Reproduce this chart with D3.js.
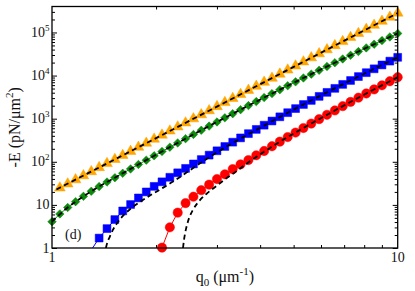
<!DOCTYPE html>
<html>
<head>
<meta charset="utf-8">
<script src="https://cdn.jsdelivr.net/npm/d3@7"></script>
<style>
  body { margin: 0; background: #fff; }
  svg text { font-family: "Liberation Serif", "DejaVu Serif", serif; fill: #111; }
</style>
</head>
<body>
<div id="chart"></div>
<script>
// q0 values shared by all simulated series (um^-1)
const q = [1.000, 1.0537, 1.1103, 1.1700, 1.2328, 1.2991, 1.3688, 1.4424, 1.5199, 1.6015,
  1.6876, 1.7783, 1.8738, 1.9745, 2.0805, 2.1923, 2.3101, 2.4342, 2.5649, 2.7027,
  2.8479, 3.0009, 3.1623, 3.3322, 3.5112, 3.6998, 3.8985, 4.1080, 4.3287, 4.5612,
  4.8062, 5.0644, 5.3365, 5.6234, 5.9255, 6.2438, 6.5793, 6.9327, 7.3051, 7.6975,
  8.1110, 8.5467, 9.0059, 9.4897, 10.000];

// -E values (pN/um^2), null where the series has no point
const orangeE = [null, 24.8, 30.8, 38.3, 47.5, 59.2, 73.5, 91.2, 113.5, 140.9,
  175.0, 217.8, 270.4, 335.7, 416.9, 518.8, 644.2, 799.8, 995.4, 1236,
  1535, 1910, 2371, 2944, 3664, 4550, 5649, 7031, 8730, 10840,
  13490, 16750, 20800, 25880, 32140, 39900, 49660, 61660, 76560, 95060,
  118300, 146900, 182400, 227000, 281800];

const greenE = [4.07, 6.17, 8.71, 11.9, 15.8, 20.7, 26.6, 33.9, 42.7, 54.1,
  68.4, 86.5, 109.1, 137.7, 173.4, 218.3, 274.2, 343.6, 430.5, 538.3,
  673.0, 839.5, 1047, 1303, 1618, 2009, 2489, 3083, 3811, 4710,
  5808, 7145, 8790, 10790, 13240, 16220, 19860, 24270, 29580, 36060,
  43850, 53330, 64710, 78520, 95060];

const blueE = [null, null, null, null, null, 0.9, 1.70, 2.82, 4.57, 7.24,
  10.2, 14.5, 20.0, 26.9, 34.3, 43.7, 55.5, 70.3, 89.1, 112.7,
  142.6, 179.9, 226.5, 285.1, 358.1, 449.8, 563.6, 706.3, 883.1, 1104,
  1377, 1714, 2133, 2649, 3289, 4074, 5047, 6237, 7691, 9484,
  11670, 14350, 17620, 21630, 26490];

const redE = [null, null, null, null, null, null, null, null, null, null,
  null, null, null, null, 1.02, 3.02, 6.61, 11.0, 15.5, 21.9,
  29.5, 39.8, 51.3, 67.6, 87.1, 109.6, 141.3, 177.8, 229.1, 293.1,
  374.1, 476.4, 606.7, 769.1, 975, 1230, 1552, 1950, 2449, 3069,
  3837, 4775, 5943, 7379, 9141];

// theory curves (dashed)
const orangeTheoryQ = [1.03, 2, 3, 5, 10];
const orangeTheoryE = [22.8, 354, 1905, 15890, 281800];
const greenTheoryQ = [1, 1.1103, 1.2328, 1.3688, 1.5199, 1.6876, 1.8738, 2.0806, 2.565, 3.1623, 3.8986, 4.8063, 5.9255, 7.3052, 9.0063, 10];
const greenTheoryE = [4.07, 8.71, 15.8, 26.6, 42.7, 68.4, 109.1, 173.4, 430.5, 1047, 2489, 5808, 13240, 29580, 64710, 95060];
const blueTheoryQ = [1.432, 1.445, 1.469, 1.500, 1.535, 1.578, 1.629, 1.698, 1.795, 1.897, 2.028, 2.239, 2.512, 2.818, 3.162, 3.548, 3.981, 5.012, 6.310, 7.943, 10];
const blueTheoryE = [1.0, 1.32, 1.82, 2.63, 3.55, 4.79, 6.31, 8.51, 11.7, 15.5, 21.4, 34.7, 64.6, 120, 214, 363, 603, 1641, 4266, 10720, 26490];
const redTheoryQ = [2.393, 2.410, 2.432, 2.477, 2.564, 2.679, 2.831, 3.027, 3.162, 3.388, 3.631, 3.981, 4.467, 5.012, 6.310, 7.943, 10];
const redTheoryE = [1.0, 1.58, 2.40, 4.27, 7.94, 12.9, 19.5, 29.5, 38.9, 57.5, 87.1, 144.5, 263, 457, 1288, 3508, 9141];

const yMajorExp = [0, 1, 2, 3, 4, 5];
const xMajor = [1, 10];

const width = 415, height = 291;
const pLeft = 52, pRight = 397.7, pTop = 6.5, pBottom = 248;

const svg = d3.select("#chart").append("svg")
    .attr("width", width)
    .attr("height", height);

const x = d3.scaleLog().domain([1, 10]).range([pLeft, pRight]);
const y = d3.scaleLog().domain([1, 4e5]).range([pBottom, pTop]);

svg.append("clipPath").attr("id", "plot")
  .append("rect")
    .attr("x", pLeft).attr("y", pTop)
    .attr("width", pRight - pLeft).attr("height", pBottom - pTop);

// ticks
const yMajor = yMajorExp.map(e => Math.pow(10, e));
const yMinor = [];
yMajorExp.forEach(e => {
  for (let m = 2; m <= 9; m++) {
    const v = m * Math.pow(10, e);
    if (v < 4e5) yMinor.push(v);
  }
});
const xMinor = [2, 3, 4, 5, 6, 7, 8, 9];

function tickAxis(axis, pos, values, size) {
  svg.append("g")
    .attr("transform", pos)
    .call(axis.tickValues(values).tickSize(size).tickFormat(""))
    .call(g => g.select(".domain").remove())
    .call(g => g.selectAll("line").attr("stroke", "#000").attr("stroke-width", 1));
}
tickAxis(d3.axisLeft(y), `translate(${pLeft},0)`, yMajor, -5);
tickAxis(d3.axisLeft(y), `translate(${pLeft},0)`, yMinor, -3);
tickAxis(d3.axisRight(y), `translate(${pRight},0)`, yMajor, -5);
tickAxis(d3.axisRight(y), `translate(${pRight},0)`, yMinor, -3);
tickAxis(d3.axisBottom(x), `translate(0,${pBottom})`, xMinor, -3);
tickAxis(d3.axisTop(x), `translate(0,${pTop})`, xMinor, -3);

// series
const series = [
  { E: redE, color: "#ff0000", shape: "circle" },
  { E: blueE, color: "#0000ff", shape: "square" },
  { E: greenE, color: "#0b8a0b", shape: "diamond" },
  { E: orangeE, color: "#ffa500", shape: "triangle" }
];

const line = d3.line()
    .defined(d => d.E != null)
    .x(d => x(d.q))
    .y(d => y(d.E));

const symbols = {
  circle: d3.symbol(d3.symbolCircle, 68)(),
  square: d3.symbol(d3.symbolSquare, 62)(),
  diamond: d3.symbol(d3.symbolSquare, 36)(),
  triangle: d3.symbol(d3.symbolTriangle, 50)()
};

series.forEach(s => {
  const pts = q.map((v, i) => ({ q: v, E: s.E[i] }));
  svg.append("path")
    .datum(pts)
    .attr("clip-path", "url(#plot)")
    .attr("d", line)
    .attr("fill", "none")
    .attr("stroke", s.color)
    .attr("stroke-width", 1);

  svg.append("g").selectAll("path")
    .data(pts.filter(d => d.E != null && d.E >= 1))
    .enter().append("path")
    .attr("d", symbols[s.shape])
    .attr("transform", d => `translate(${x(d.q)},${y(d.E)})` + (s.shape === "diamond" ? " rotate(45)" : ""))
    .attr("fill", s.color)
    .attr("stroke", s.color)
    .attr("stroke-width", 0.5);
});

// theory (dashed)
const theories = [
  [orangeTheoryQ, orangeTheoryE],
  [greenTheoryQ, greenTheoryE],
  [blueTheoryQ, blueTheoryE],
  [redTheoryQ, redTheoryE]
];
theories.forEach(([tq, te]) => {
  svg.append("path")
    .datum(tq.map((v, i) => ({ q: v, E: te[i] })))
    .attr("clip-path", "url(#plot)")
    .attr("d", d3.line().curve(d3.curveMonotoneX).x(d => x(d.q)).y(d => y(d.E)))
    .attr("fill", "none")
    .attr("stroke", "#000")
    .attr("stroke-width", 1.8)
    .attr("stroke-dasharray", "5,3.5");
});

// frame
svg.append("rect")
    .attr("x", pLeft).attr("y", pTop)
    .attr("width", pRight - pLeft).attr("height", pBottom - pTop)
    .attr("fill", "none")
    .attr("stroke", "#000")
    .attr("stroke-width", 1.3);

// tick labels
yMajorExp.forEach(e => {
  const t = svg.append("text")
      .attr("x", 49.5)
      .attr("y", y(Math.pow(10, e)) + 4.5)
      .attr("text-anchor", "end")
      .attr("font-size", 14);
  if (e === 0) t.text("1");
  else if (e === 1) t.text("10");
  else {
    t.append("tspan").text("10");
    t.append("tspan").attr("dy", -6).attr("font-size", 9).text(e);
  }
});
xMajor.forEach(v => {
  svg.append("text")
      .attr("x", x(v))
      .attr("y", 262)
      .attr("text-anchor", "middle")
      .attr("font-size", 14)
      .text(v);
});

// axis titles
const xt = svg.append("text")
    .attr("x", (pLeft + pRight) / 2)
    .attr("y", 282)
    .attr("text-anchor", "middle")
    .attr("font-size", 16);
xt.append("tspan").text("q");
xt.append("tspan").attr("dy", 4).attr("font-size", 11).text("0");
xt.append("tspan").attr("dy", -4).text(" (μm");
xt.append("tspan").attr("dy", -7).attr("font-size", 11).text("-1");
xt.append("tspan").attr("dy", 7).text(")");

const yt = svg.append("text")
    .attr("transform", `translate(20,${(pTop + pBottom) / 2}) rotate(-90)`)
    .attr("text-anchor", "middle")
    .attr("font-size", 16);
yt.append("tspan").text("-E (pN/μm");
yt.append("tspan").attr("dy", -7).attr("font-size", 11).text("2");
yt.append("tspan").attr("dy", 7).text(")");

svg.append("text")
    .attr("x", 65)
    .attr("y", 239)
    .attr("font-size", 14)
    .text("(d)");
</script>
</body>
</html>
